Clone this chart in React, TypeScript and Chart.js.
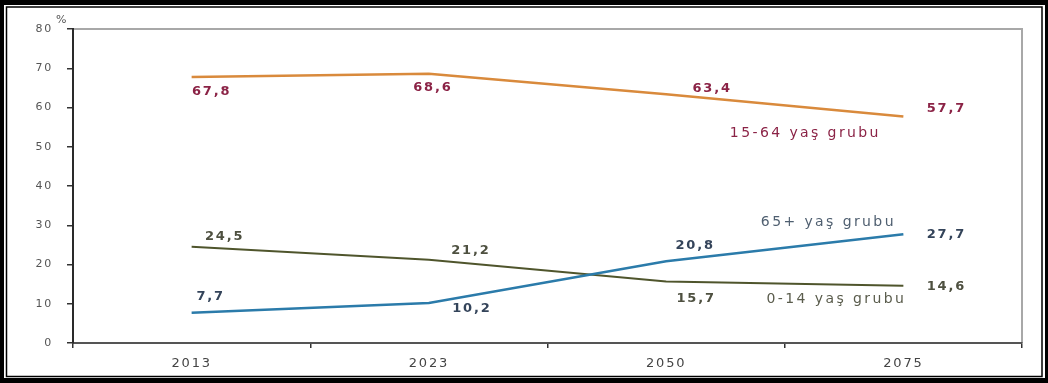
import React, { useEffect, useRef } from "react";
import { Chart, registerables } from "chart.js";

Chart.register(...registerables);

const years = ["2013", "2023", "2050", "2075"];
const age15to64 = [67.8, 68.6, 63.4, 57.7];
const age65plus = [7.7, 10.2, 20.8, 27.7];
const age0to14 = [24.5, 21.2, 15.7, 14.6];
const seriesNames = ["15-64 yaş grubu", "65+ yaş grubu", "0-14 yaş grubu"];
const yMin = 0;
const yMax = 80;
const yStep = 10;
const unitLabel = "%";

// styling: colours and label placements (offsets from each point, in px)
const lineColors = ["#D98A3C", "#2B7BAA", "#4F552C"];
const valueColors = ["#8B2346", "#34445A", "#4E5040"];
const nameColors = ["#8B2346", "#4F5F70", "#5A5C4C"];
const valueOffsets = [
  [[20, 15], [4, 14], [46, -6], [43, -8]],
  [[19, -16], [43, 6], [29, -16], [43, 0]],
  [[33, -10], [42, -9], [30, 17], [43, 1]],
];
const nameOffsets = [[-98, 17], [-75, -12], [-67, 14]];

const W = 1048;
const H = 383;
const PLOT_LEFT = 73;
const PLOT_TOP = 29;
const PLOT_RIGHT = 1022;
const PLOT_BOTTOM = 343;

const fmt = (v: number) => v.toFixed(1).replace(".", ",");

const framePlugin = {
  id: "frame",
  beforeDraw(chart: any) {
    const ctx = chart.ctx as CanvasRenderingContext2D;
    ctx.save();
    ctx.fillStyle = "#ffffff";
    ctx.fillRect(0, 0, W, H);
    ctx.fillStyle = "#000000";
    ctx.fillRect(0, 0, W, 5);
    ctx.fillRect(0, H - 5, W, 5);
    ctx.fillRect(0, 0, 4, H);
    ctx.fillRect(W - 3, 0, 3, H);
    ctx.strokeStyle = "#000000";
    ctx.lineWidth = 1.5;
    ctx.strokeRect(6.5, 7, W - 12.5, H - 13.5);
    // plot box (gray top and right)
    const a = chart.chartArea;
    ctx.strokeStyle = "#A8A8A8";
    ctx.lineWidth = 2;
    ctx.beginPath();
    ctx.moveTo(a.left, a.top);
    ctx.lineTo(a.right, a.top);
    ctx.lineTo(a.right, a.bottom);
    ctx.stroke();
    // unit label
    ctx.fillStyle = "#555555";
    ctx.font = "11px 'DejaVu Sans'";
    (ctx as any).letterSpacing = "1px";
    ctx.textAlign = "left";
    ctx.textBaseline = "middle";
    ctx.fillText(unitLabel, a.left - 17, a.top - 9);
    ctx.restore();
    (ctx as any).letterSpacing = "1.8px";
  },
  afterDatasetsDraw(chart: any) {
    const ctx = chart.ctx as CanvasRenderingContext2D;
    ctx.save();
    ctx.textAlign = "center";
    ctx.textBaseline = "middle";
    chart.data.datasets.forEach((ds: any, di: number) => {
      const meta = chart.getDatasetMeta(di);
      meta.data.forEach((pt: any, i: number) => {
        const [dx, dy] = valueOffsets[di][i];
        ctx.font = "bold 13px 'DejaVu Sans'";
        (ctx as any).letterSpacing = "1.8px";
        ctx.fillStyle = valueColors[di];
        ctx.fillText(fmt(ds.data[i]), pt.x + dx, pt.y + dy);
      });
      const last = meta.data[meta.data.length - 1];
      const [nx, ny] = nameOffsets[di];
      ctx.font = "14px 'DejaVu Sans'";
      (ctx as any).letterSpacing = "2.4px";
      ctx.fillStyle = nameColors[di];
      ctx.fillText(ds.label, last.x + nx, last.y + ny);
    });
    ctx.restore();
    (ctx as any).letterSpacing = "1.8px";
  },
};

export default function App() {
  const canvasRef = useRef<HTMLCanvasElement | null>(null);

  useEffect(() => {
    if (!canvasRef.current) return;
    const chart = new Chart(canvasRef.current, {
      type: "line",
      data: {
        labels: years,
        datasets: [
          { label: seriesNames[0], data: age15to64, borderColor: lineColors[0], borderWidth: 2.5 },
          { label: seriesNames[1], data: age65plus, borderColor: lineColors[1], borderWidth: 2.5 },
          { label: seriesNames[2], data: age0to14, borderColor: lineColors[2], borderWidth: 2 },
        ].map((d) => ({ ...d, pointRadius: 0, pointHoverRadius: 0, tension: 0, fill: false })),
      },
      options: {
        responsive: false,
        animation: false,
        devicePixelRatio: 1,
        layout: {
          padding: { left: 0, top: PLOT_TOP, right: W - PLOT_RIGHT, bottom: 0 },
        },
        plugins: {
          legend: { display: false },
          tooltip: { enabled: false },
          title: { display: false },
        },
        scales: {
          x: {
            type: "category",
            offset: true,
            grid: {
              offset: true,
              drawOnChartArea: false,
              drawTicks: true,
              tickLength: 5,
              color: "#333333",
              lineWidth: 1.5,
            },
            border: { display: true, color: "#555555", width: 2 },
            ticks: {
              color: "#444444",
              font: { family: "'DejaVu Sans'", size: 13 },
              padding: 8,
              maxRotation: 0,
              autoSkip: false,
            },
            afterFit(scale: any) {
              scale.height = H - PLOT_BOTTOM;
            },
          },
          y: {
            min: yMin,
            max: yMax,
            grid: {
              drawOnChartArea: false,
              drawTicks: true,
              tickLength: 6,
              color: "#333333",
              lineWidth: 1.5,
            },
            border: { display: true, color: "#2A2A2A", width: 2 },
            ticks: {
              stepSize: yStep,
              color: "#555555",
              font: { family: "'DejaVu Sans'", size: 11 },
              padding: 14,
            },
            afterFit(scale: any) {
              scale.width = PLOT_LEFT;
            },
          },
        },
      },
      plugins: [framePlugin],
    });
    return () => chart.destroy();
  }, []);

  return (
    <div style={{ position: "absolute", left: 0, top: 0, width: W, height: H, background: "#fff" }}>
      <canvas ref={canvasRef} width={W} height={H} style={{ display: "block" }} />
    </div>
  );
}
